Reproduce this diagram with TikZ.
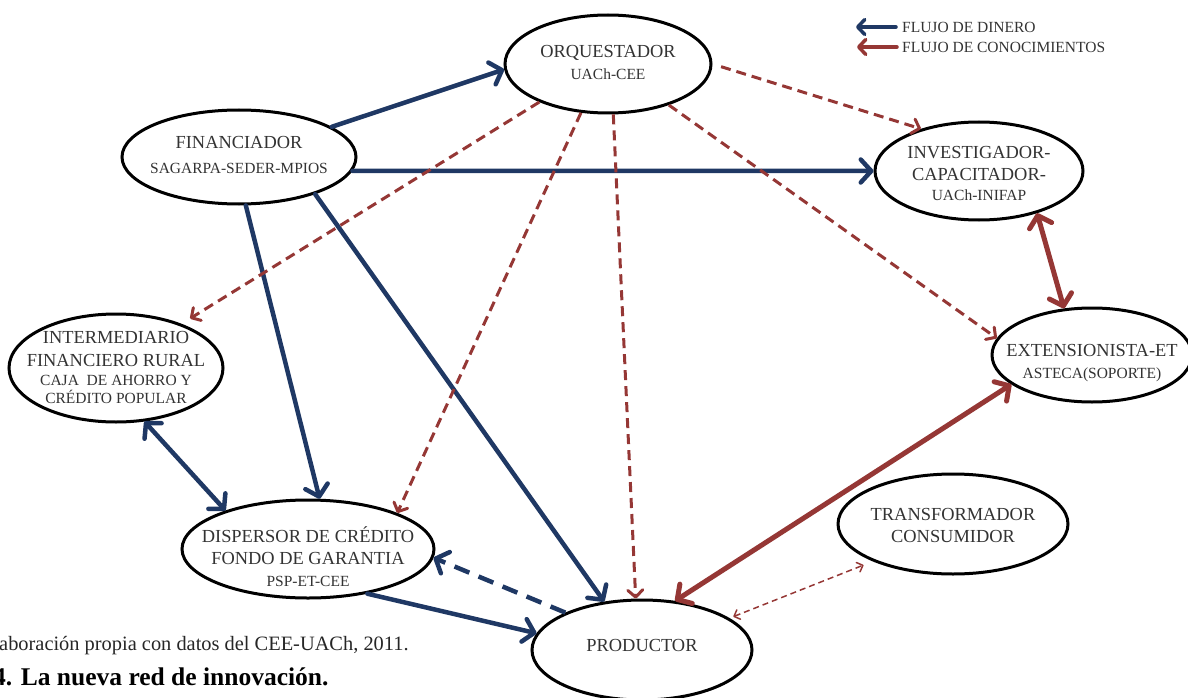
\documentclass[tikz,border=0pt]{standalone}
\usepackage{fontspec}
\setmainfont{Liberation Serif}
\usetikzlibrary{shapes.geometric,arrows.meta}
\definecolor{moneyblue}{HTML}{1F3864}
\definecolor{knowred}{HTML}{953735}
\definecolor{txtgray}{HTML}{333333}
\newcommand\mainsz{\fontsize{18.4}{22}\selectfont}
\newcommand\subsz{\fontsize{15.5}{22}\selectfont}
\newcommand\lines[1]{\mainsz\begin{tabular}{@{}c@{}}#1\end{tabular}}
\tikzset{
  actor/.style={ellipse, draw=black, line width=3pt, inner sep=0pt, fill=white},
  lbl/.style={text=txtgray, inner sep=0pt},
  barb/.tip={Straight Barb[round,length=10.5pt,width=23pt]},
  sbarb/.tip={Straight Barb[round,length=7pt,width=15pt]},
  tbarb/.tip={Straight Barb[round,length=5pt,width=10pt]},
  money/.style={draw=moneyblue, line width=4.5pt, line cap=round, -barb},
  moneyboth/.style={draw=moneyblue, line width=4.5pt, line cap=round, barb-barb},
  moneydash/.style={draw=moneyblue, line width=4.5pt, dash pattern=on 16pt off 10pt, -barb},
  know/.style={draw=knowred, line width=5pt, line cap=round, barb-barb},
  knowdash/.style={draw=knowred, line width=3pt, dash pattern=on 10pt off 6pt, -sbarb},
  knowthin/.style={draw=knowred, line width=1.5pt, dash pattern=on 6pt off 4pt, tbarb-tbarb},
  legblue/.style={draw=moneyblue, line width=3.5pt, line cap=round, -sbarb},
  legred/.style={draw=knowred, line width=3.5pt, line cap=round, -sbarb},
  legtxt/.style={anchor=west, text=txtgray, inner sep=0pt, font=\subsz},
}
\begin{document}
\begin{tikzpicture}[x=1pt,y=-1pt]
\useasboundingbox (0,0) rectangle (1188,698);

% nodes
\node[actor, minimum width=206pt, minimum height=98pt,
  label={[lbl]center:{\lines{ORQUESTADOR\\ \subsz UACh-CEE}}}] (orq) at (608,64) {};
\node[actor, minimum width=234pt, minimum height=94pt,
  label={[lbl]center:{\lines{FINANCIADOR\\[3pt] \subsz SAGARPA-SEDER-MPIOS}}}] (fin) at (239,157) {};
\node[actor, minimum width=208pt, minimum height=98pt,
  label={[lbl, yshift=-4pt]center:{\lines{INVESTIGADOR-\\ CAPACITADOR-\\[-2pt] \subsz UACh-INIFAP}}}] (inv) at (979,171) {};
\node[actor, minimum width=200pt, minimum height=94pt,
  label={[lbl, yshift=-8pt]center:{\lines{EXTENSIONISTA-ET\\ \subsz ASTECA(SOPORTE)}}}] (ext) at (1092,355) {};
\node[actor, minimum width=214pt, minimum height=108pt,
  label={[lbl, yshift=-1pt]center:{\lines{INTERMEDIARIO\\[1pt] FINANCIERO RURAL\\[-3pt] \subsz CAJA\ \ DE AHORRO Y\\[-4pt] \subsz CRÉDITO POPULAR}}}] (int) at (116,368) {};
\node[actor, minimum width=252pt, minimum height=98pt,
  label={[lbl, yshift=-11pt]center:{\lines{DISPERSOR DE CRÉDITO\\ FONDO DE GARANTIA\\ \subsz PSP-ET-CEE}}}] (disp) at (308,549) {};
\node[actor, minimum width=230pt, minimum height=100pt,
  label={[lbl, yshift=-3pt]center:{\lines{TRANSFORMADOR\\ CONSUMIDOR}}}] (trans) at (953,524) {};
\node[actor, minimum width=220pt, minimum height=100pt,
  label={[lbl, yshift=3pt]center:{\lines{PRODUCTOR}}}] (prod) at (642,650) {};

% money flows
\draw[money] (fin.18) -- (orq.183);
\draw[money] (fin.-7) -- (inv.west);
\draw[money] (fin.-82) -- (disp.77);
\draw[money] (fin.-26) -- (prod.128);
\draw[moneyboth] (int.-62) -- (disp.155);
\draw[money] (disp.-37) -- (prod.171);
\draw[moneydash] (prod.154) -- (disp.-4);

% knowledge flows
\draw[knowdash, shorten >=10pt] (orq.209) -- (int.34);
\draw[knowdash] (orq.241) -- (disp.22);
\draw[knowdash] (orq.276) -- (prod.97);
\draw[knowdash] (orq.-34) -- (ext.170);
\draw[knowdash, shorten <=9pt] (orq.0) -- (inv.144);
\draw[know] (inv.-36) -- (ext.121);
\draw[know] (prod.56) -- (ext.200);
\draw[knowthin, shorten >=10pt, shorten <=4pt] (prod.20) -- (trans.205);

% legend
\coordinate (lb1) at (896,27);
\coordinate (lb2) at (856,27);
\coordinate (lr1) at (897,47);
\coordinate (lr2) at (857,47);
\draw[legblue] (lb1) -- (lb2);
\draw[legred] (lr1) -- (lr2);
\node[legtxt] (legm) at (902,27) {FLUJO DE DINERO};
\node[legtxt] (legk) at (902,47) {FLUJO DE CONOCIMIENTOS};

% caption
\node[anchor=base west, inner sep=0pt, text=black!85, font=\fontsize{20.4}{24}\selectfont] (src) at (-1,650) {aboración propia con datos del CEE-UACh, 2011.};
\node[anchor=base west, inner sep=0pt, text=black, font=\fontsize{25.5}{28}\selectfont\bfseries] (cap) at (-7,685) {4. La nueva red de innovación.};
\end{tikzpicture}
\end{document}
